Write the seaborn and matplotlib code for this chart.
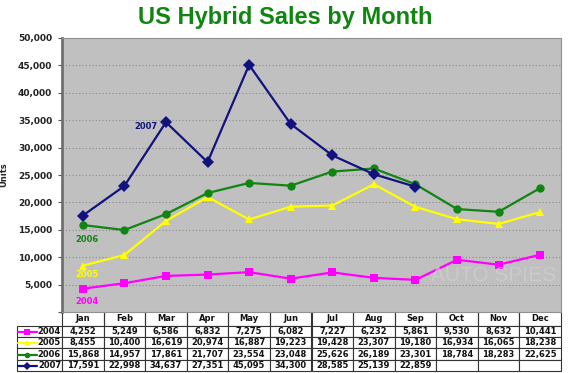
import numpy as np
import pandas as pd
import seaborn as sns
import matplotlib.pyplot as plt
from matplotlib.lines import Line2D

months = ['Jan', 'Feb', 'Mar', 'Apr', 'May', 'Jun', 'Jul', 'Aug', 'Sep', 'Oct', 'Nov', 'Dec']
years = ['2004', '2005', '2006', '2007']
sales_2004 = [4252, 5249, 6586, 6832, 7275, 6082, 7227, 6232, 5861, 9530, 8632, 10441]
sales_2005 = [8455, 10400, 16619, 20974, 16887, 19223, 19428, 23307, 19180, 16934, 16065, 18238]
sales_2006 = [15868, 14957, 17861, 21707, 23554, 23048, 25626, 26189, 23301, 18784, 18283, 22625]
sales_2007 = [17591, 22998, 34637, 27351, 45095, 34300, 28585, 25139, 22859, None, None, None]

colors = {'2004': '#FF00FF', '2005': '#FFFF00', '2006': '#118511', '2007': '#12127E'}
markers = {'2004': 's', '2005': '^', '2006': 'o', '2007': 'D'}

all_sales = {'2004': sales_2004, '2005': sales_2005, '2006': sales_2006, '2007': sales_2007}
rows = []
for yr in years:
    for i, v in enumerate(all_sales[yr]):
        rows.append({'month': i, 'year': yr, 'units': np.nan if v is None else v})
df = pd.DataFrame(rows)

sns.set_style('white')
plt.rcParams['font.family'] = ['DejaVu Sans']

fig = plt.figure(figsize=(5.71, 3.73), dpi=100)
W, H = 571, 373
ax = fig.add_axes([62 / W, (H - 312) / H, 499 / W, 274 / H])
ax.set_facecolor('#C0C0C0')

sns.lineplot(data=df, x='month', y='units', hue='year', style='year',
             palette=colors, markers=markers, dashes=False, markersize=6,
             markeredgewidth=0, linewidth=1.6, legend=False, ax=ax)

ax.set_xlim(-0.5, 11.5)
ax.set_ylim(0, 50000)
ax.set_yticks(range(0, 50001, 5000))
ax.set_yticklabels([''] + [f'{v:,}' for v in range(5000, 50001, 5000)],
                   fontsize=6.5, fontweight='bold', color='#222222')
ax.set_xticks([])
ax.set_xlabel('')
ax.set_ylabel('Units', fontsize=6, fontweight='bold')
ax.yaxis.set_label_coords(-54 / 499, 0.5)
ax.tick_params(axis='y', length=3, width=0.8, color='#555555', pad=4, left=True)
for y in range(5000, 50000, 5000):
    ax.axhline(y, color='#8A8A8A', linewidth=0.8, linestyle=(0, (1, 2)), zorder=0)
for s in ['top', 'right', 'bottom']:
    ax.spines[s].set_color('#909090')
    ax.spines[s].set_linewidth(0.8)
ax.spines['left'].set_color('#707070')
ax.spines['left'].set_linewidth(2)

# series labels inside the plot
ax.text(1.25, 33900, '2007', color=colors['2007'], fontsize=6, fontweight='bold', va='center')
ax.text(-0.17, 13300, '2006', color=colors['2006'], fontsize=6, fontweight='bold', va='center')
ax.text(-0.17, 6800, '2005', color=colors['2005'], fontsize=6, fontweight='bold', va='center')
ax.text(-0.17, 1900, '2004', color=colors['2004'], fontsize=6, fontweight='bold', va='center')

# faint watermark
ax.text(0.99, 0.135, 'AUTO SPIES', transform=ax.transAxes, ha='right', va='center',
        fontsize=15, color='#D0D0D0', alpha=0.7, family='Liberation Sans')

# data table under the axis
label_w = 45 / 499
cell_text = [[''] + months]
for yr in years:
    vals = all_sales[yr]
    cell_text.append([yr] + ['' if v is None else f'{v:,}' for v in vals])
tab = ax.table(cellText=cell_text, cellLoc='center',
               bbox=[-label_w, -59 / 274, 1 + label_w, 59 / 274])
tab.auto_set_font_size(False)
for (r, c), cell in tab.get_celld().items():
    cell.set_width(label_w if c == 0 else 1 / 12)
    cell.set_height(14 if r == 0 else 11.3)
    cell.set_linewidth(0.8)
    cell.set_edgecolor('#333333')
    cell.get_text().set_fontsize(6)
    cell.get_text().set_fontweight('bold')
    cell.get_text().set_color('#111111')
    if r == 0:
        cell.visible_edges = '' if c == 0 else 'BLR'
    if c == 0 and r > 0:
        cell._loc = 'right'
        cell.get_text().set_ha('right')
        cell.PAD = 0.02

# legend keys in the table label column
for i, yr in enumerate(years):
    yc = (H - (332 + i * 11.3)) / H
    fig.add_artist(Line2D([18 / W, 27.5 / W, 37 / W], [yc, yc, yc], transform=fig.transFigure,
                          color=colors[yr], linewidth=1.6, marker=markers[yr],
                          markersize=4, markevery=[1], markeredgewidth=0))

fig.suptitle('US Hybrid Sales by Month', x=0.5, y=0.985, color='#118511',
             fontsize=17, fontweight='bold', family='Liberation Sans')

fig.savefig('out.png', dpi=100)
